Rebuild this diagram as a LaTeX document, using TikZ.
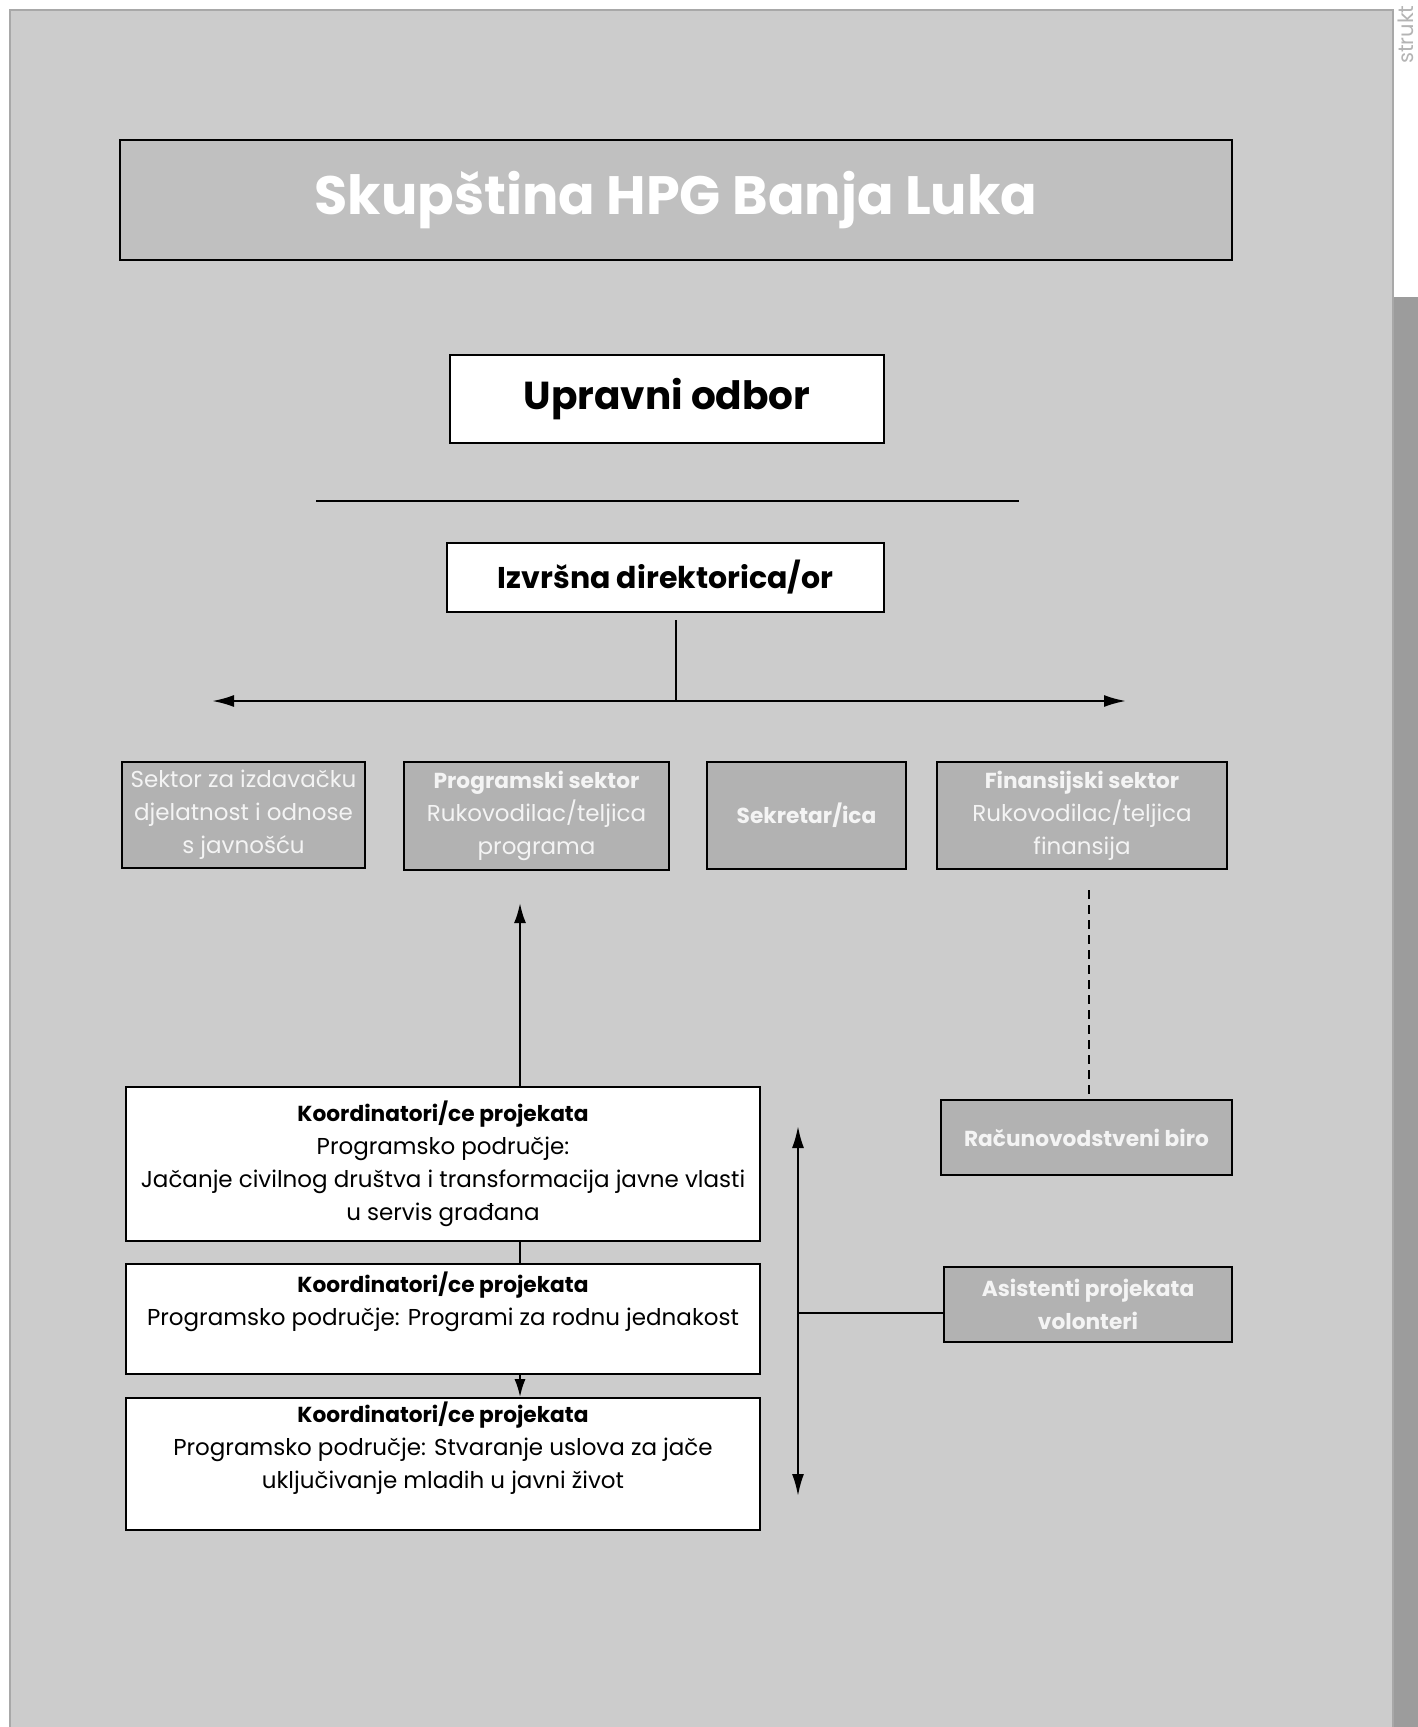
\documentclass[tikz,border=0pt]{standalone}
\usepackage{fontspec}
\setmainfont{Poppins}
\usetikzlibrary{arrows.meta}
\definecolor{panel}{HTML}{CCCCCC}
\definecolor{panelline}{HTML}{A8A8A8}
\definecolor{titlefill}{HTML}{C0C0C0}
\definecolor{secfill}{HTML}{B2B2B2}
\definecolor{strip}{HTML}{9C9C9C}
\definecolor{soft}{HTML}{B4B4B4}
\definecolor{wtext}{HTML}{F4F4F4}
\newcommand\hbf[1]{{\fontsize{21.7}{33}\selectfont\bfseries #1}}
\begin{document}
\begin{tikzpicture}[x=1pt,y=-1pt,
  boxbase/.style={draw=black,line width=1.6pt,inner sep=0pt,align=center},
  whitebox/.style={boxbase,fill=white,text=black},
  secbox/.style={boxbase,fill=secfill,text=wtext,font=\fontsize{23}{33}\selectfont},
  conn/.style={line width=2.2pt,draw=black},
  tip/.style={-{Latex[length=20pt,width=12pt]}},
  btext/.style={inner sep=0pt,align=center,font=\fontsize{23}{33}\selectfont}
]
\useasboundingbox (0,0) rectangle (1418,1727);
\fill[white] (0,0) rectangle (1418,1727);
\draw[fill=panel,draw=panelline,line width=2pt] (10,10) rectangle (1393,1740);
\fill[strip] (1394,297) rectangle (1418,1727);
\node[text=soft,rotate=90,anchor=base west,inner sep=0pt,font=\fontsize{21}{21}\selectfont] (strk) at (1413,64) {strukt};

% title
\node[boxbase,fill=titlefill,text=white,minimum width=1112pt,minimum height=120pt,font=\fontsize{54}{60}\selectfont\bfseries] (title) at (676,200) {Skupština HPG Banja Luka};
\node[whitebox,minimum width=434pt,minimum height=88pt,font=\fontsize{39}{42}\selectfont\bfseries] (uo) at (667,399) {Upravni odbor};
\coordinate (lineL) at (316,501);
\coordinate (lineR) at (1019,501);
\draw[conn] (lineL) -- (lineR);
\node[whitebox,minimum width=437pt,minimum height=69pt,font=\fontsize{30}{32}\selectfont\bfseries] (izv) at (665.5,577.5) {Izvršna direktorica/or};

\coordinate (stemTop) at (676,620);
\coordinate (stemBot) at (676,701);
\coordinate (arrL) at (212,701);
\coordinate (arrR) at (1126,701);
\draw[conn] (stemTop) -- (stemBot);
\draw[conn,{Latex[length=22pt,width=12pt]}-{Latex[length=22pt,width=12pt]}] (arrL) -- (arrR);

% sectors
\node[secbox,minimum width=243pt,minimum height=106pt] (s1) at (243.5,815) {Sektor za izdavačku\\djelatnost i odnose\\s javnošću};
\node[secbox,minimum width=265pt,minimum height=108pt] (s2) at (536.5,816) {\hbf{Programski sektor}\\Rukovodilac/teljica\\programa};
\node[secbox,minimum width=199pt,minimum height=107pt] (s3) at (806.5,815.5) {\hbf{Sekretar/ica}};
\node[secbox,minimum width=290pt,minimum height=107pt] (s4) at (1082,815.5) {\hbf{Finansijski sektor}\\Rukovodilac/teljica\\finansija};

\node[secbox,minimum width=291pt,minimum height=75pt] (rb) at (1086.5,1137.5) {\hbf{Računovodstveni biro}};
\coordinate (dashTop) at (1089,890);
\draw[conn,dashed,dash pattern=on 9pt off 6pt] (dashTop) -- (dashTop |- rb.north);

% coordinators
\node[whitebox,minimum width=634pt,minimum height=154pt] (k1) at (443,1164) {};
\node[whitebox,minimum width=634pt,minimum height=110pt] (k2) at (443,1319) {};
\node[whitebox,minimum width=634pt,minimum height=132pt] (k3) at (443,1464) {};
\node[btext,anchor=center] (k1t) at (443,1163.5) {\hbf{Koordinatori/ce projekata}\\Programsko područje:\\Jačanje civilnog društva i transformacija javne vlasti\\u servis građana};
\node[btext,anchor=center] (k2t) at (443,1301.5) {\hbf{Koordinatori/ce projekata}\\Programsko područje: Programi za rodnu jednakost};
\node[btext,anchor=center] (k3t) at (443,1448) {\hbf{Koordinatori/ce projekata}\\Programsko područje: Stvaranje uslova za jače\\uključivanje mladih u javni život};

\coordinate (colx) at (520,0);
\coordinate (upEnd) at (520,903);
\draw[conn,tip] (k1.north -| colx) -- (upEnd);
\draw[conn] (k1.south -| colx) -- (k2.north -| colx);
\draw[conn,-{Latex[length=18pt,width=11pt]}] (k2.south -| colx) -- (k3.north -| colx);

\node[secbox,minimum width=288pt,minimum height=75pt] (as) at (1088,1304.5) {\hbf{Asistenti projekata}\\\hbf{volonteri}};
\coordinate (dTop) at (798,1126);
\coordinate (dBot) at (798,1496);
\coordinate (dMid) at (798,1313);
\draw[conn,{Latex[length=22pt,width=12pt]}-{Latex[length=22pt,width=12pt]}] (dTop) -- (dBot);
\draw[conn] (dMid) -- (dMid -| as.west);
\end{tikzpicture}
\end{document}
